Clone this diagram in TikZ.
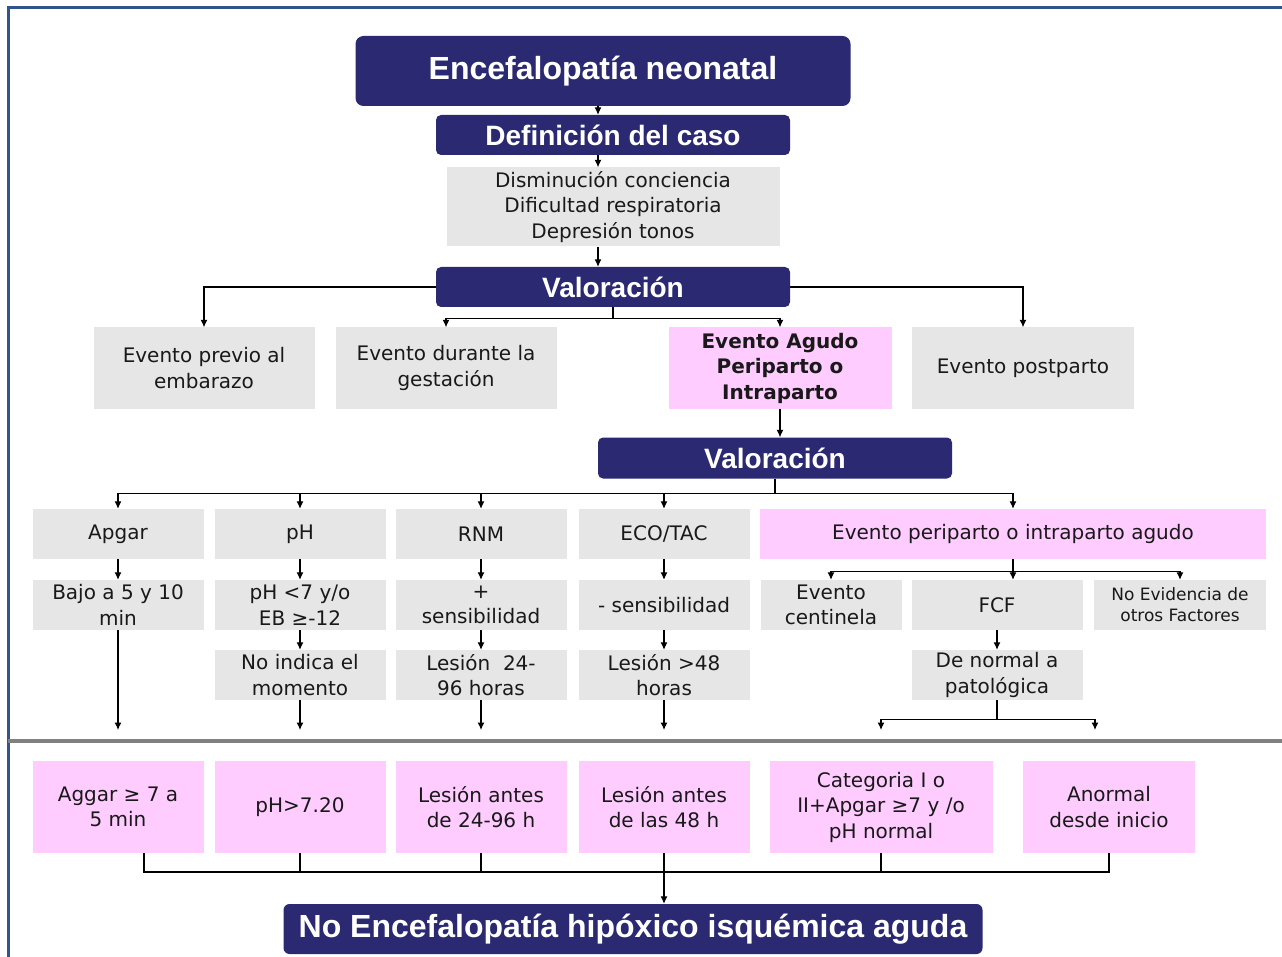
\documentclass[tikz,border=0pt]{standalone}
\usepackage{fontspec}
\setmainfont{DejaVu Sans}
\newfontfamily\headfont{Liberation Sans}
\usetikzlibrary{arrows.meta}
\definecolor{navy}{RGB}{42,41,114}
\definecolor{boxgray}{RGB}{230,230,230}
\definecolor{boxpink}{RGB}{255,204,255}
\definecolor{framblue}{RGB}{47,85,140}
\definecolor{sepgray}{RGB}{128,128,128}
\tikzstyle{headbox} = [rectangle, rounded corners=8pt, fill=navy, text=white, inner sep=0pt, font=\headfont\bfseries\fontsize{32}{36}\selectfont]
\tikzstyle{subhead} = [headbox, rounded corners=5pt, font=\headfont\bfseries\fontsize{28}{32}\selectfont]
\tikzstyle{graybox} = [rectangle, fill=boxgray, text=black!90, align=center, inner sep=0pt, font=\fontsize{20}{25.5}\selectfont]
\tikzstyle{pinkbox} = [graybox, fill=boxpink]
\tikzstyle{arrow} = [line width=1.1pt,->,>={Latex[length=7.5pt,width=7pt]}]
\tikzstyle{link} = [line width=1.1pt]

\begin{document}
\begin{tikzpicture}[x=1pt, y=-1pt]
    \useasboundingbox (0,0) rectangle (1282,957);
    \draw [framblue, line width=3pt] (8,957) -- (8,8) -- (1282,8);
    \draw [sepgray, line width=4pt] (8,741) -- (1282,741);

    % case definition
    \node (encef) [headbox, minimum width=495pt, minimum height=70pt] at (603,71) {Encefalopatía neonatal};
    \node (defcaso) [subhead, minimum width=354pt, minimum height=40pt] at (613,135) {Definición del caso};
    \node (sintomas) [graybox, minimum width=333pt, minimum height=79pt] at (613,207) {Disminución conciencia\\Dificultad respiratoria\\Depresión tonos};
    \node (valor1) [subhead, minimum width=354pt, minimum height=40pt] at (613,287) {Valoración};

    % events
    \node (previo) [graybox, minimum width=221pt, minimum height=81pt] at (204,368) {Evento previo al\\embarazo};
    \node (durante) [graybox, minimum width=221pt, minimum height=81pt] at (446,368) {Evento durante la\\gestación};
    \node (agudo) [pinkbox, minimum width=223pt, minimum height=81pt, font=\bfseries\fontsize{20}{25.5}\selectfont] at (780,368) {Evento Agudo\\Periparto o\\Intraparto};
    \node (postparto) [graybox, minimum width=222pt, minimum height=81pt] at (1023,368) {Evento postparto};
    \node (valor2) [subhead, minimum width=354pt, minimum height=41pt] at (775,458) {Valoración};

    % tests
    \node (apgar) [graybox, minimum width=171pt, minimum height=50pt] at (118,534) {Apgar};
    \node (ph) [graybox, minimum width=171pt, minimum height=50pt] at (300,534) {pH};
    \node (rnm) [graybox, minimum width=171pt, minimum height=50pt] at (481,534) {RNM};
    \node (eco) [graybox, minimum width=171pt, minimum height=50pt] at (664,534) {ECO/TAC};
    \node (periparto) [pinkbox, minimum width=506pt, minimum height=50pt] at (1013,534) {Evento periparto o intraparto agudo};

    \node (bajo) [graybox, minimum width=171pt, minimum height=50pt] at (118,605) {Bajo a 5 y 10\\min};
    \node (phbajo) [graybox, minimum width=171pt, minimum height=50pt] at (300,605) {pH <7 y/o\\EB ≥-12};
    \node (rnmsens) [graybox, minimum width=171pt, minimum height=50pt] at (481,605) {+\\sensibilidad};
    \node (ecosens) [graybox, minimum width=171pt, minimum height=50pt] at (664,605) {- sensibilidad};
    \node (centinela) [graybox, minimum width=141pt, minimum height=50pt] at (831,605) {Evento\\centinela};
    \node (fcf) [graybox, minimum width=171pt, minimum height=50pt] at (997,605) {FCF};
    \node (noevid) [graybox, minimum width=172pt, minimum height=50pt, font=\fontsize{17}{21}\selectfont] at (1180,605) {No Evidencia de\\otros Factores};

    \node (noindica) [graybox, minimum width=171pt, minimum height=50pt] at (300,675) {No indica el\\momento};
    \node (les24) [graybox, minimum width=171pt, minimum height=50pt] at (481,675) {Lesión\ \ 24-\\96 horas};
    \node (les48) [graybox, minimum width=171pt, minimum height=50pt] at (664,675) {Lesión >48\\horas};
    \node (denormal) [graybox, minimum width=171pt, minimum height=50pt] at (997,675) {De normal a\\patológica};

    % exclusion criteria
    \node (aggar) [pinkbox, minimum width=171pt, minimum height=92pt] at (118,807) {Aggar ≥ 7 a\\5 min};
    \node (phnorm) [pinkbox, minimum width=171pt, minimum height=92pt] at (300,807) {pH>7.20};
    \node (antes24) [pinkbox, minimum width=171pt, minimum height=92pt] at (481,807) {Lesión antes\\de 24-96 h};
    \node (antes48) [pinkbox, minimum width=171pt, minimum height=92pt] at (664,807) {Lesión antes\\de las 48 h};
    \node (categoria) [pinkbox, minimum width=223pt, minimum height=92pt] at (881,807) {Categoria I o\\II+Apgar ≥7 y /o\\pH normal};
    \node (anormal) [pinkbox, minimum width=172pt, minimum height=92pt] at (1109,807) {Anormal\\desde inicio};
    \node (noencef) [headbox, rounded corners=6pt, minimum width=699pt, minimum height=50pt] at (633,929) {No Encefalopatía hipóxico isquémica aguda};

    \coordinate (spine) at (598,0);
    \coordinate (sep) at (0,730);
    \coordinate (join) at (0,872);

    \draw [arrow] (encef.south -| spine) -- (defcaso.north -| spine);
    \draw [arrow] (defcaso.south -| spine) -- (sintomas.north -| spine);
    \draw [arrow] (sintomas.south -| spine) -- (valor1.north -| spine);
    \draw [arrow] (valor1.west) -| (previo.north);
    \draw [arrow] (valor1.east) -| (postparto.north);
    \draw [link] (valor1.south) -- ++(0,11) coordinate (v1b);
    \draw [arrow] (v1b) -| (durante.north);
    \draw [arrow] (v1b) -| (agudo.north);
    \draw [arrow] (agudo.south) -- (agudo.south |- valor2.north);

    \draw [link] (valor2.south) -- ++(0,15) coordinate (v2b);
    \foreach \n in {apgar, ph, rnm, eco, periparto}
        \draw [arrow] (v2b) -| (\n.north);
    \foreach \a/\b in {apgar/bajo, ph/phbajo, rnm/rnmsens, eco/ecosens, phbajo/noindica, rnmsens/les24, ecosens/les48, fcf/denormal}
        \draw [arrow] (\a) -- (\b);
    \draw [arrow] (periparto.south) -- (periparto.south |- fcf.north);
    \draw [link] (periparto.south) -- ++(0,12) coordinate (pb);
    \draw [arrow] (pb) -| (centinela.north);
    \draw [arrow] (pb) -| (noevid.north);

    \foreach \n in {bajo, noindica, les24, les48}
        \draw [arrow] (\n.south) -- (\n.south |- sep);
    \draw [link] (denormal.south) -- ++(0,19) coordinate (db);
    \draw [arrow] (db) -| (categoria.north |- sep);
    \draw [arrow] (db) -| ([xshift=-14pt]anormal.north |- sep);

    \draw [link] ([xshift=26pt]aggar.south) |- (anormal.south |- join) -- (anormal.south);
    \foreach \n in {phnorm, antes24, categoria}
        \draw [link] (\n.south) -- (\n.south |- join);
    \draw [arrow] (antes48.south) -- (antes48.south |- noencef.north);
\end{tikzpicture}
\end{document}
